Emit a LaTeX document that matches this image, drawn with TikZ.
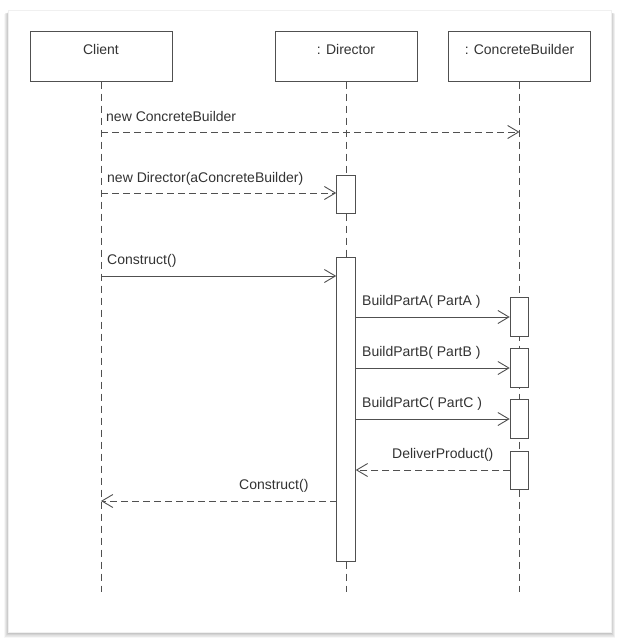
\documentclass[tikz,border=0pt]{standalone}
\usepackage{fontspec}
\setmainfont{Liberation Sans}
\usetikzlibrary{arrows.meta}
\definecolor{boxline}{HTML}{505050}
\definecolor{msgline}{HTML}{505050}
\definecolor{labeltext}{HTML}{333333}
\begin{document}
\begin{tikzpicture}[x=1pt,y=-1pt,
  headbox/.style={draw=boxline,line width=1pt,fill=white,inner sep=0pt,
    minimum width=142pt,text height=23pt,text depth=26pt,text=labeltext,
    font=\fontsize{14pt}{16pt}\selectfont},
  actbox/.style={draw=boxline,line width=1pt,fill=white,inner sep=0pt,
    minimum width=18.5pt},
  lifeline/.style={draw=msgline,line width=0.9pt,dash pattern=on 7pt off 5pt},
  callmsg/.style={draw=msgline,line width=0.9pt,-{Straight Barb[length=11pt,width=13pt,line width=0.9pt]}},
  backmsg/.style={callmsg,dash pattern=on 7pt off 4pt},
  msglabel/.style={anchor=base west,inner sep=0pt,text=labeltext,
    font=\fontsize{14pt}{16pt}\selectfont}]
\useasboundingbox (0,0) rectangle (619,642);

% card with a soft shadow, heavier along the bottom
\foreach \i in {1,...,8}
  \fill[black,opacity=0.03] (8-0.5*\i,12+0.2*\i) rectangle (611+0.5*\i,633+0.6*\i);
\fill[white] (8,10) rectangle (611,632);
\draw[gray!12,line width=0.5pt] (8,10) rectangle (611,632);

% participants
\node[headbox] (client) at (101,56.5) {Client};
\node[headbox] (director) at (346,56.5) {: Director};
\node[headbox] (builder) at (519.5,56.5) {: ConcreteBuilder};

% lifelines
\coordinate (clientEnd) at (101,592);
\coordinate (directorEnd) at (346,592);
\coordinate (builderEnd) at (519.5,592);
\draw[lifeline] (client.south) -- (clientEnd);
\draw[lifeline] (director.south) -- (directorEnd);
\draw[lifeline] (builder.south) -- (builderEnd);

% activations
\node[actbox,minimum height=38pt] (dirNew) at (346,194) {};
\node[actbox,minimum height=304pt] (dirRun) at (346,409) {};
\node[actbox,minimum height=39pt] (partA) at (519.5,316.5) {};
\node[actbox,minimum height=39pt] (partB) at (519.5,367.5) {};
\node[actbox,minimum height=39pt] (partC) at (519.5,418.5) {};
\node[actbox,minimum height=38pt] (deliver) at (519.5,470) {};

% points on the lifelines
\coordinate (m1) at (101,132);
\coordinate (m1end) at (519.5,132);
\coordinate (m2) at (101,193);
\coordinate (m3) at (101,276);
\coordinate (m4) at (355.25,317);
\coordinate (m5) at (355.25,368);
\coordinate (m6) at (355.25,419);
\coordinate (m7) at (510.25,470);
\coordinate (m8) at (336.75,501);
\coordinate (m8end) at (101,501);

% messages
\draw[backmsg] (m1) -- (m1end);
\draw[backmsg] (m2) -- (dirNew.west |- m2);
\draw[callmsg] (m3) -- (dirRun.west |- m3);
\draw[callmsg] (m4) -- (partA.west |- m4);
\draw[callmsg] (m5) -- (partB.west |- m5);
\draw[callmsg] (m6) -- (partC.west |- m6);
\draw[backmsg] (m7) -- (dirRun.east |- m7);
\draw[backmsg] (m8) -- (m8end);

% message labels
\node[msglabel] at (106,121) {new ConcreteBuilder};
\node[msglabel] at (107,182) {new Director(aConcreteBuilder)};
\node[msglabel] at (107,264) {Construct()};
\node[msglabel] at (362,305) {BuildPartA( PartA )};
\node[msglabel] at (362,356) {BuildPartB( PartB )};
\node[msglabel] at (362,407) {BuildPartC( PartC )};
\node[msglabel] at (392,458) {DeliverProduct()};
\node[msglabel] at (239,489) {Construct()};
\end{tikzpicture}
\end{document}
